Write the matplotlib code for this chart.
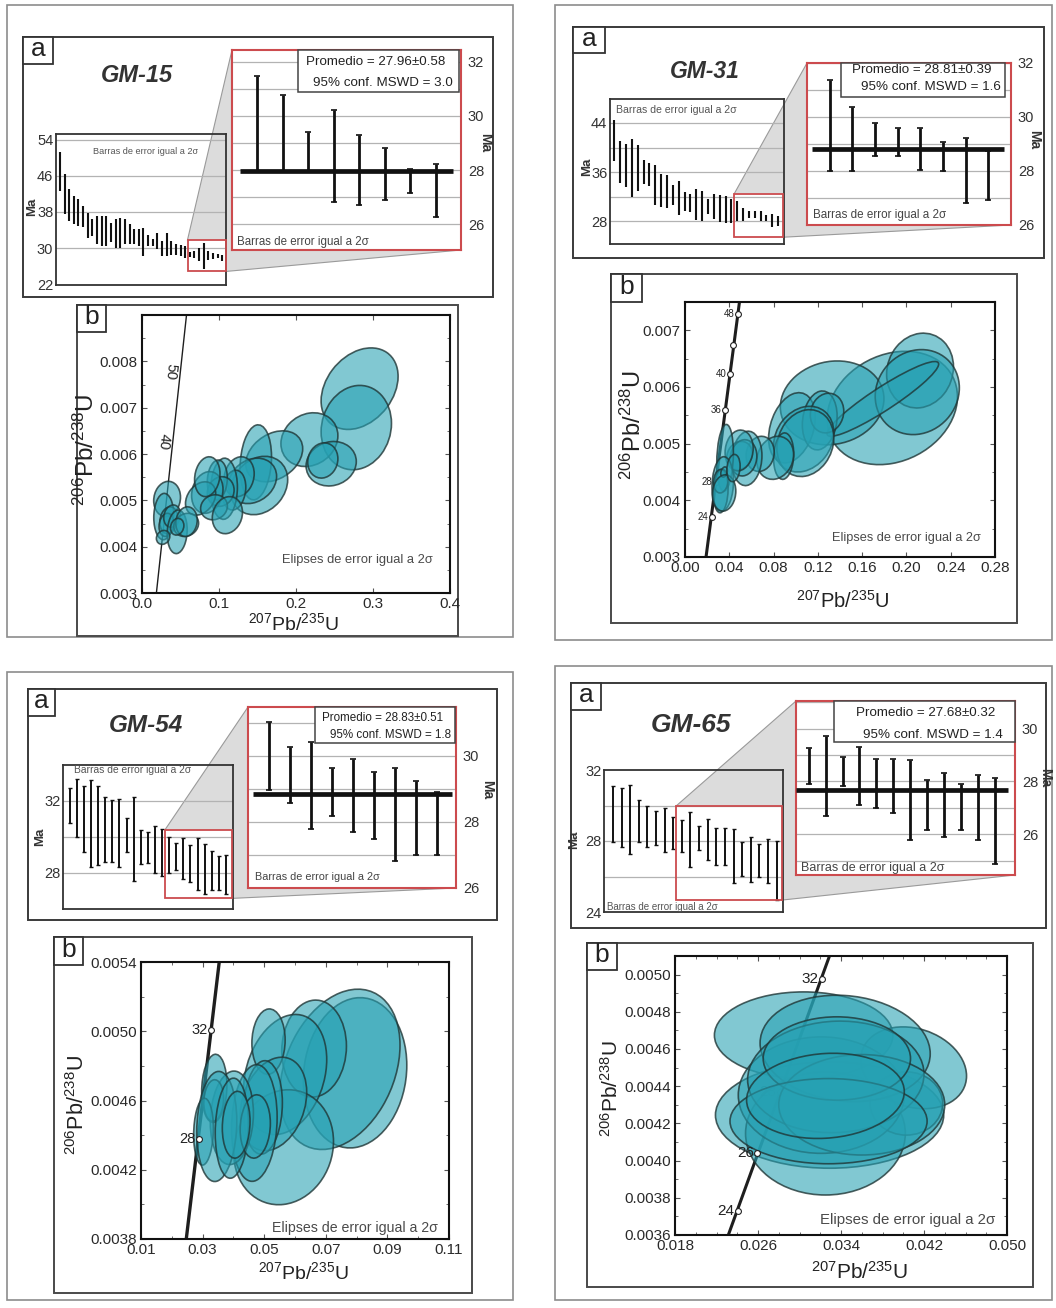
import numpy as np
import matplotlib
matplotlib.use("Agg")
import matplotlib.pyplot as plt
from matplotlib.patches import Rectangle, Ellipse, Polygon
from matplotlib.transforms import Affine2D
from matplotlib.ticker import MultipleLocator

plt.rcParams["font.family"] = ["Liberation Sans", "DejaVu Sans"]
plt.rcParams["mathtext.fontset"] = "custom"
plt.rcParams["mathtext.rm"] = "Liberation Sans"
plt.rcParams["mathtext.default"] = "regular"

# ---------------- data ----------------
# weighted-mean plots (a): small overview bars and zoomed bars (Ma, 2 sigma)
gm15_small_hi = [51.4, 46.5, 43.0, 41.6, 40.8, 39.4, 37.7, 36.5, 37.2, 37.2, 37.1, 35.6,
                 36.5, 36.7, 36.4, 35.3, 34.3, 34.3, 34.5, 32.8, 31.9, 33.4, 31.6, 33.4,
                 31.6, 30.8, 30.6, 30.5, 29.1, 29.4, 30.1, 31.2, 29.4, 28.9, 28.6, 28.4]
gm15_small_lo = [42.6, 37.5, 36.0, 35.3, 34.9, 34.7, 32.3, 32.7, 30.8, 30.5, 30.5, 31.4,
                 29.9, 30.1, 30.8, 31.0, 30.8, 30.5, 28.3, 30.5, 30.5, 29.7, 28.3, 28.3,
                 28.4, 28.4, 28.3, 27.9, 28.1, 27.9, 27.1, 25.3, 27.4, 27.5, 27.7, 27.2]
gm15_zoom_hi = [31.48, 30.79, 29.39, 30.21, 29.30, 28.83, 28.02, 28.21]
gm15_zoom_lo = [27.95, 27.95, 27.95, 26.80, 26.70, 26.89, 27.16, 26.27]

gm31_small_hi = [44.5, 41.0, 40.6, 41.4, 40.4, 38.0, 37.5, 37.2, 35.7, 35.6, 33.9, 34.5,
                 32.7, 32.5, 33.2, 32.9, 31.7, 32.4, 32.2, 32.1, 31.7, 31.3, 30.2, 29.7,
                 29.6, 29.6, 29.1, 29.2, 28.8]
gm31_small_lo = [37.8, 34.2, 33.5, 32.0, 32.9, 34.1, 33.8, 30.7, 30.4, 30.1, 30.7, 29.0,
                 29.6, 29.5, 28.2, 28.1, 29.2, 28.4, 27.9, 27.7, 27.7, 28.0, 28.1, 28.5,
                 28.6, 28.0, 28.0, 27.1, 27.2]
gm31_zoom_hi = [31.37, 30.38, 29.76, 29.58, 29.61, 29.09, 29.21, 28.75]
gm31_zoom_lo = [28.00, 28.00, 28.54, 28.54, 28.05, 28.00, 26.82, 26.93]

gm54_small_hi = [32.73, 33.23, 32.83, 33.14, 32.83, 32.22, 32.04, 32.13, 31.06, 32.22, 30.39,
                 30.26, 30.62, 30.44, 29.98, 29.65, 29.93, 29.56, 29.93, 29.61, 29.23, 28.92, 29.01]
gm54_small_lo = [30.79, 30.02, 29.19, 28.31, 28.42, 28.61, 28.59, 28.31, 29.16, 27.58, 28.51,
                 28.55, 28.00, 27.82, 28.00, 28.15, 27.69, 27.50, 27.08, 26.81, 27.03, 27.03, 26.81]
gm54_zoom_hi = [31.01, 30.25, 30.40, 29.63, 29.91, 29.50, 29.63, 29.22, 28.89]
gm54_zoom_lo = [28.97, 28.57, 27.78, 28.16, 27.68, 27.47, 26.80, 27.00, 27.00]

gm65_small_hi = [31.10, 30.99, 31.18, 30.29, 29.96, 29.71, 29.85, 29.33, 29.18, 29.66,
                 28.86, 29.24, 28.76, 28.76, 28.70, 27.94, 28.23, 27.81, 28.13, 28.00]
gm65_small_lo = [27.94, 27.66, 27.24, 27.94, 27.66, 27.75, 27.37, 27.56, 27.37, 26.53,
                 27.52, 26.95, 26.67, 26.67, 25.66, 26.04, 25.71, 26.00, 25.62, 24.70]
gm65_zoom_hi = [29.26, 29.73, 28.94, 29.31, 28.85, 28.85, 28.81, 28.06, 28.31, 27.91, 28.23, 28.13]
gm65_zoom_lo = [27.89, 26.69, 27.81, 27.10, 26.98, 26.81, 25.79, 26.16, 25.89, 26.16, 25.79, 24.88]

sample_names = ["GM-15", "GM-31", "GM-54", "GM-65"]
mean_age = [27.96, 28.81, 28.83, 27.68]
mean_err = ["0.58", "0.39", "0.51", "0.32"]
mswd = ["3.0", "1.6", "1.8", "1.4"]

# concordia diagrams (b): error ellipses  centre x, centre y, half width, half height, rho
gm15_cx = [0.2826, 0.2783, 0.2174, 0.2457, 0.2348, 0.1717, 0.1478, 0.1522, 0.1435, 0.1261,
           0.1196, 0.1065, 0.0978, 0.1022, 0.0848, 0.0761, 0.0935, 0.1109, 0.0848, 0.0326,
           0.0283, 0.0348, 0.0317, 0.0391, 0.0457, 0.0574, 0.0578, 0.0457, 0.0274]
gm15_cy = [0.00741, 0.00657, 0.00631, 0.00579, 0.00586, 0.00595, 0.00582, 0.00532, 0.00542,
           0.00551, 0.00522, 0.00525, 0.00544, 0.00519, 0.00517, 0.00504, 0.00485, 0.00468,
           0.00551, 0.00503, 0.00465, 0.00457, 0.00447, 0.00466, 0.00432, 0.00447, 0.00454,
           0.00443, 0.00420]
gm15_sx = [0.050, 0.0457, 0.037, 0.0326, 0.0196, 0.037, 0.0204, 0.037, 0.0313, 0.0196,
           0.0152, 0.0174, 0.013, 0.0174, 0.0204, 0.0196, 0.0174, 0.0196, 0.0165, 0.0174,
           0.013, 0.0117, 0.0096, 0.0109, 0.013, 0.0161, 0.0139, 0.0087, 0.0087]
gm15_sy = [0.00088, 0.00091, 0.00058, 0.00048, 0.00038, 0.00055, 0.00081, 0.00063, 0.00049,
           0.00043, 0.00043, 0.00066, 0.00043, 0.00032, 0.00045, 0.00036, 0.00027, 0.00040,
           0.00043, 0.00038, 0.00050, 0.00029, 0.00025, 0.00024, 0.00047, 0.00025, 0.00032,
           0.00018, 0.00015]
gm15_rho = [0.3, 0.1, 0.15, 0.1, 0.1, 0.3, 0.15, 0.2, 0.2, 0.15, 0.15, 0.05, 0.1, 0.1, 0.15,
            0.3, 0.1, 0.15, 0.15, 0.1, 0.05, 0.15, 0.15, 0.15, 0.1, 0.15, 0.1, 0.15, 0.15]

gm31_cx = [0.1872, 0.1329, 0.2123, 0.2098, 0.1787, 0.0966, 0.1217, 0.1283, 0.1072, 0.1087,
           0.0891, 0.0815, 0.0679, 0.0559, 0.0492, 0.0528, 0.0489, 0.0362, 0.0341, 0.0323,
           0.0323, 0.0353, 0.0353, 0.0438]
gm31_cy = [0.00563, 0.00572, 0.00629, 0.00591, 0.00579, 0.00528, 0.00541, 0.00554, 0.00508,
           0.00501, 0.00478, 0.00475, 0.00482, 0.00474, 0.00479, 0.00475, 0.00488, 0.00475,
           0.00429, 0.00416, 0.00434, 0.00450, 0.00413, 0.00457]
gm31_sx = [0.0589, 0.0468, 0.0302, 0.038, 0.0504, 0.0211, 0.0157, 0.0151, 0.0272, 0.0257,
           0.0091, 0.0166, 0.0127, 0.0136, 0.0115, 0.0121, 0.0127, 0.0075, 0.0097, 0.0066,
           0.0066, 0.0030, 0.0106, 0.0060]
gm31_sy = [0.0010, 0.00074, 0.00066, 0.00075, 0.00066, 0.00062, 0.00052, 0.00035, 0.00058,
           0.00059, 0.00041, 0.00038, 0.00031, 0.00048, 0.00025, 0.00032, 0.00036, 0.00059,
           0.00048, 0.00038, 0.00021, 0.00009, 0.00032, 0.00024]
gm31_rho = [0.2, 0.1, 0.1, 0.1, 0.93, 0.3, 0.15, 0.1, 0.2, 0.15, 0.1, 0.15, 0.1, 0.1, 0.15,
            0.1, 0.1, 0.15, 0.1, 0.1, 0.1, 0.3, 0.1, 0.15]

gm54_cx = [0.0795, 0.0746, 0.0662, 0.0568, 0.0514, 0.0563, 0.0530, 0.0496, 0.0468, 0.0395,
           0.0338, 0.0336, 0.0303, 0.0346, 0.0395, 0.0471, 0.0409]
gm54_cy = [0.00476, 0.00478, 0.00490, 0.00475, 0.00494, 0.00433, 0.00458, 0.00456, 0.00447,
           0.00450, 0.00467, 0.00460, 0.00442, 0.00445, 0.00444, 0.00445, 0.00446]
gm54_sx = [0.0168, 0.0195, 0.0105, 0.0135, 0.0054, 0.0162, 0.0108, 0.0063, 0.0074, 0.0070,
           0.0041, 0.0032, 0.0032, 0.0065, 0.0054, 0.0049, 0.0045]
gm54_sy = [0.000434, 0.000463, 0.000280, 0.000347, 0.000189, 0.000332, 0.000270, 0.000270,
           0.000337, 0.000270, 0.000197, 0.000120, 0.000193, 0.000318, 0.000289, 0.000183,
           0.000193]
gm54_rho = [0.1, 0.3, 0.05, 0.25, 0.05, 0.1, 0.25, 0.1, 0.1, 0.1, 0.1, 0.1, 0.1, 0.1, 0.1, 0.1, 0.1]

gm65_cx = [0.0304, 0.0329, 0.0325, 0.0410, 0.0403, 0.0321, 0.0344, 0.0335, 0.0360, 0.0336,
           0.0328, 0.0325]
gm65_cy = [0.004674, 0.004245, 0.004146, 0.004499, 0.004307, 0.004352, 0.004603, 0.004450,
           0.004300, 0.004549, 0.004212, 0.004348]
gm65_sx = [0.0086, 0.0110, 0.0077, 0.0051, 0.0035, 0.0080, 0.0082, 0.0085, 0.0080, 0.0071,
           0.0095, 0.0076]
gm65_sy = [0.000233, 0.000286, 0.000331, 0.000220, 0.000170, 0.000313, 0.000286, 0.000300,
           0.000270, 0.000224, 0.000229, 0.000229]
gm65_rho = [0.0, 0.0, 0.0, -0.2, 0.0, 0.0, -0.1, 0.05, 0.0, 0.0, 0.0, 0.1]

# concordia curve (end points) and age marks as read on each diagram
gm15_conc_x = [0.0187, 0.0578]
gm15_conc_y = [0.0030, 0.0090]
gm15_mark_age = ["50", "40"]
gm15_mark_x = [0.0370, 0.0283]
gm15_mark_y = [0.00779, 0.00627]

gm31_conc_x = [0.0190, 0.0492]
gm31_conc_y = [0.0030, 0.0075]
gm31_mark_age = ["24", "28", "36", "40", "", "48"]
gm31_mark_x = [0.0245, 0.0278, 0.0365, 0.0408, 0.0432, 0.0477]
gm31_mark_y = [0.00370, 0.00432, 0.00560, 0.00623, 0.00674, 0.00729]

gm54_conc_x = [0.0247, 0.0354]
gm54_conc_y = [0.0038, 0.0054]
gm54_mark_age = ["28", "32"]
gm54_mark_x = [0.0287, 0.0327]
gm54_mark_y = [0.00438, 0.005005]

gm65_conc_x = [0.02314, 0.03289]
gm65_conc_y = [0.0036, 0.0051]
gm65_mark_age = ["24", "26", "28", "32"]
gm65_mark_x = [0.02404, 0.02594, 0.02813, 0.03215]
gm65_mark_y = [0.003729, 0.004039, 0.00437, 0.004979]

# ---------------- layout helpers ----------------
W, H = 1056, 1308
fig = plt.figure(figsize=(W / 100, H / 100), dpi=100)
fig.patch.set_facecolor("white")

RED = "#cc4b4e"
TEAL = (0.15, 0.63, 0.70, 0.58)
EDGE = (0.12, 0.21, 0.21, 0.8)
XLAB = r"$^{207}$Pb/$^{235}$U"
YLAB = r"$^{206}$Pb/$^{238}$U"
NOTE_BAR = "Barras de error igual a 2σ"
NOTE_ELL = "Elipses de error igual a 2σ"


def frac(x0, y0, x1, y1):
    return [x0 / W, 1 - y1 / H, (x1 - x0) / W, (y1 - y0) / H]


def pixel_axes(z):
    ax = fig.add_axes([0, 0, 1, 1], zorder=z)
    ax.set_xlim(0, W)
    ax.set_ylim(H, 0)
    ax.axis("off")
    return ax


bg = pixel_axes(-1)
fg = pixel_axes(10)


def frame(ax, x0, y0, x1, y1, ec, lw, fc="none"):
    ax.add_patch(Rectangle((x0, y0), x1 - x0, y1 - y0, fc=fc, ec=ec, lw=lw))


def letter(x0, y0, x1, y1, s):
    frame(fg, x0, y0, x1, y1, "#333333", 1.3, fc="white")
    fg.text((x0 + x1) / 2, (y0 + y1) / 2 - 1, s, ha="center", va="center",
            fontsize=19, color="#222222")


def to_px(ax, x, y):
    d = ax.transData.transform((x, y))
    return d[0], H - d[1]


def panel_a(k, outer, abox, abox_l, title, srect, hi, lo, sxlim, sylim, sticks, sgrid,
            caps, sred, snote, snote_fs, sma, irect, zhi, zlo, ixlim, iylim, iticks,
            span, sbox, s1, s2, inote, inote_fs, ima, title_fs):
    frame(bg, *outer, ec="#8c8c8c", lw=1.2)
    frame(bg, *abox, ec="#3a3a3a", lw=1.4)
    letter(*abox_l, "a")
    fg.text(title[0], title[1], sample_names[k], ha="center", va="center",
            fontsize=title_fs, fontweight="bold", fontstyle="italic", color="#333333")

    # overview plot
    sax = fig.add_axes(frac(*srect))
    sax.patch.set_alpha(0)
    x = np.arange(1, len(hi) + 1)
    mid = (np.array(hi) + np.array(lo)) / 2
    err = (np.array(hi) - np.array(lo)) / 2
    if caps:
        sax.errorbar(x, mid, yerr=err, fmt="none", ecolor="#111111", elinewidth=1.4,
                     capsize=1.6, capthick=1.0, zorder=3)
    else:
        sax.vlines(x, lo, hi, color="#111111", lw=1.5, zorder=3)
    for g in sgrid:
        sax.axhline(g, color="#b3b3b3", lw=0.9, zorder=1)
    sax.set_xlim(*sxlim)
    sax.set_ylim(*sylim)
    sax.set_xticks([])
    sax.set_yticks(sticks)
    sax.tick_params(axis="y", length=0, pad=2, labelsize=10.5, labelcolor="#333333")
    for s in sax.spines.values():
        s.set_color("#333333")
        s.set_linewidth(1.3)
    sax.add_patch(Rectangle((sred[0], sred[1]), sred[2] - sred[0], sred[3] - sred[1],
                            fill=False, ec=RED, lw=1.3, zorder=4, clip_on=False))
    fg.text(snote[0], snote[1], NOTE_BAR, ha="left", va="center", fontsize=snote_fs,
            color="#555555")
    fg.text(sma[0], sma[1], "Ma", rotation=90, ha="center", va="center",
            fontsize=9.5, fontweight="bold", color="#333333")

    # zoom wedge
    tl = to_px(sax, sred[0], sred[3])
    tr = to_px(sax, sred[2], sred[3])
    br = to_px(sax, sred[2], sred[1])
    itl = (irect[0], irect[1])
    ibr = (irect[2], irect[3])
    bg.add_patch(Polygon([tl, itl, ibr, br, tr], closed=True, fc="#dcdcdc", ec="none"))
    bg.plot([tl[0], itl[0]], [tl[1], itl[1]], color="#9a9a9a", lw=0.8)
    bg.plot([br[0], ibr[0]], [br[1], ibr[1]], color="#9a9a9a", lw=0.8)

    # zoomed plot
    iax = fig.add_axes(frac(*irect), zorder=2)
    iax.set_facecolor("white")
    xi = np.arange(1, len(zhi) + 1)
    zmid = (np.array(zhi) + np.array(zlo)) / 2
    zerr = (np.array(zhi) - np.array(zlo)) / 2
    iax.errorbar(xi, zmid, yerr=zerr, fmt="none", ecolor="#111111", elinewidth=2.0,
                 capsize=2.2, capthick=1.2, zorder=3)
    iax.hlines(mean_age[k], span[0], span[1], color="#111111", lw=3.4, zorder=4)
    for g in range(int(np.ceil(iylim[0])), int(np.floor(iylim[1])) + 1):
        iax.axhline(g, color="#b3b3b3", lw=0.9, zorder=1)
    iax.set_xlim(*ixlim)
    iax.set_ylim(*iylim)
    iax.set_xticks([])
    iax.yaxis.tick_right()
    iax.set_yticks(iticks)
    iax.tick_params(axis="y", length=0, pad=5, labelsize=10.5, labelcolor="#333333")
    for s in iax.spines.values():
        s.set_color(RED)
        s.set_linewidth(1.5)
    frame(fg, *sbox, ec="#444444", lw=1.1, fc="white")
    fs = 9.6 if k != 2 else 8.4
    fg.text(s1[0], s1[1], "Promedio = %.2f±%s" % (mean_age[k], mean_err[k]), ha="right",
            va="center", fontsize=fs, color="#222222")
    fg.text(s2[0], s2[1], "95% conf. MSWD = " + mswd[k], ha="right", va="center",
            fontsize=fs, color="#222222")
    fg.text(inote[0], inote[1], NOTE_BAR, ha="left", va="center", fontsize=inote_fs,
            color="#444444")
    fg.text(ima[0], ima[1], "Ma", rotation=-90, ha="center", va="center",
            fontsize=10, fontweight="bold", color="#333333")


def panel_b(bbox, bbox_l, arect, xlim, ylim, xticks, xfmt, yticks, yfmt, cx, cy, sx, sy,
            rho, conc_x, conc_y, conc_lw, mk_age, mk_x, mk_y, mk_fs, mk_front, note,
            note_fs, xlab, ylab, xlab_fs, ylab_fs, xminor=None, yminor=None):
    frame(bg, *bbox, ec="#4a4a4a", lw=1.4)
    letter(*bbox_l, "b")
    ax = fig.add_axes(frac(*arect), zorder=1)
    ax.plot(conc_x, conc_y, color="#1e1e1e", lw=conc_lw, zorder=1, solid_capstyle="butt")
    for i in range(len(cx)):
        r = rho[i]
        m = np.array([[sx[i], 0.0, cx[i]],
                      [sy[i] * r, sy[i] * np.sqrt(1 - r * r), cy[i]],
                      [0.0, 0.0, 1.0]])
        e = Ellipse((0, 0), 2, 2, transform=Affine2D(m) + ax.transData, fc=TEAL, ec=EDGE,
                    lw=1.2, zorder=2)
        ax.add_patch(e)
    if mk_front is not None:
        for a, x, y, front in zip(mk_age, mk_x, mk_y, mk_front):
            z = 3 if front else 1.5
            ax.plot([x], [y], "o", ms=4.2, mfc="white", mec="#222222", mew=0.8, zorder=z)
            ax.annotate(a, (x, y), xytext=(-2.5, 0), textcoords="offset points",
                        ha="right", va="center", fontsize=mk_fs, color="#222222", zorder=z)
    ax.set_xlim(*xlim)
    ax.set_ylim(*ylim)
    ax.set_xticks(xticks)
    ax.set_xticklabels([xfmt % v for v in xticks])
    ax.set_yticks(yticks)
    ax.set_yticklabels([yfmt % v for v in yticks])
    if xminor:
        ax.xaxis.set_minor_locator(MultipleLocator(xminor))
    if yminor:
        ax.yaxis.set_minor_locator(MultipleLocator(yminor))
    ax.tick_params(which="both", direction="in", top=True, right=True, labelsize=11,
                   labelcolor="#2a2a2a", color="#555555")
    ax.tick_params(which="major", length=3.5, width=0.8, pad=3)
    ax.tick_params(which="minor", length=2, width=0.6)
    for s in ax.spines.values():
        s.set_color("#111111")
        s.set_linewidth(1.5)
    fg.text(note[0], note[1], NOTE_ELL, ha="left", va="center", fontsize=note_fs,
            color="#4a4a4a")
    fg.text(xlab[0], xlab[1], XLAB, ha="center", va="center", fontsize=xlab_fs,
            color="#222222")
    fg.text(ylab[0], ylab[1], YLAB, ha="center", va="center", rotation=90,
            fontsize=ylab_fs, color="#222222")
    return ax


# ---------------- GM-15 ----------------
panel_a(0, (7, 5, 513, 637), (23, 37, 493, 297), (23, 37, 53, 64), (137, 75),
        (56, 134, 226, 285), gm15_small_hi, gm15_small_lo, (0.15, 36.8), (21.8, 55.3),
        [22, 30, 38, 46, 54], [30, 38, 46, 54], False, (28.5, 24.8, 36.7, 31.8),
        (93, 152), 6.6, (32, 207),
        (232, 50, 461, 250), gm15_zoom_hi, gm15_zoom_lo, (0, 9), (25.04, 32.44),
        [26, 28, 30, 32], (0.3, 8.7), (298, 50, 459, 92), (445, 62), (453, 83),
        (237, 242), 8.3, (485, 143), 17)
ax15 = panel_b((77, 305, 458, 636), (77, 305, 106, 332), (142, 315, 450, 593),
               (0, 0.4), (0.003, 0.009), [0, 0.1, 0.2, 0.3, 0.4], "%.1f",
               [0.003, 0.004, 0.005, 0.006, 0.007, 0.008], "%.3f",
               gm15_cx, gm15_cy, gm15_sx, gm15_sy, gm15_rho, gm15_conc_x, gm15_conc_y, 1.0,
               gm15_mark_age, gm15_mark_x, gm15_mark_y, 10, None, (282, 560), 9.3,
               (293, 623), (86, 450), 14, 17.5, yminor=0.0005)
for a, x, y in zip(gm15_mark_age, gm15_mark_x, gm15_mark_y):
    ax15.text(x, y, a, rotation=-96, ha="center", va="center", fontsize=10.5,
              color="#222222", zorder=1.5)

# ---------------- GM-31 ----------------
panel_a(1, (555, 5, 1052, 640), (573, 27, 1044, 258), (573, 27, 605, 53), (705, 72),
        (610, 99, 784, 244), gm31_small_hi, gm31_small_lo, (0.25, 30), (24.3, 47.9),
        [28, 36, 44], [28, 32, 36, 40, 44], False, (21.5, 25.4, 29.8, 32.5),
        (616, 110), 7.6, (587, 167),
        (807, 63, 1011, 225), gm31_zoom_hi, gm31_zoom_lo, (0, 9), (26, 32),
        [26, 28, 30, 32], (0.2, 8.7), (841, 63, 1005, 97), (991, 70), (1001, 87),
        (813, 215), 8.4, (1034, 140), 16.5)
panel_b((611, 274, 1017, 623), (611, 274, 642, 302), (685, 302, 995, 557),
        (0, 0.28), (0.003, 0.0075), [0, 0.04, 0.08, 0.12, 0.16, 0.20, 0.24, 0.28], "%.2f",
        [0.003, 0.004, 0.005, 0.006, 0.007], "%.3f",
        gm31_cx, gm31_cy, gm31_sx, gm31_sy, gm31_rho, gm31_conc_x, gm31_conc_y, 2.2,
        gm31_mark_age, gm31_mark_x, gm31_mark_y, 7, [True, False, True, True, True, True],
        (832, 538), 9.2, (843, 601), (633, 425), 14.5, 17, yminor=0.0005)

# ---------------- GM-54 ----------------
panel_a(2, (7, 672, 513, 1300), (28, 689, 497, 920), (28, 689, 55, 716), (146, 725),
        (63, 765, 233, 909), gm54_small_hi, gm54_small_lo, (0.05, 24), (26, 34),
        [28, 32], [28, 30, 32], True, (14.4, 26.59, 23.85, 30.39),
        (74, 770), 7.4, (40, 837),
        (248, 707, 456, 888), gm54_zoom_hi, gm54_zoom_lo, (0, 9.9), (25.99, 31.47),
        [26, 28, 30], (0.24, 9.7), (315, 707, 455, 743), (443, 718), (451, 735),
        (255, 877), 7.8, (487, 790), 17.5)
panel_b((54, 937, 472, 1293), (54, 937, 83, 965), (141, 962, 449, 1239),
        (0.01, 0.11), (0.0038, 0.0054), [0.01, 0.03, 0.05, 0.07, 0.09, 0.11], "%.2f",
        [0.0038, 0.0042, 0.0046, 0.0050, 0.0054], "%.4f",
        gm54_cx, gm54_cy, gm54_sx, gm54_sy, gm54_rho, gm54_conc_x, gm54_conc_y, 2.4,
        gm54_mark_age, gm54_mark_x, gm54_mark_y, 10.5, [True, True], (272, 1228), 10.2,
        (303, 1272), (78, 1105), 14, 15.5, xminor=0.01, yminor=0.0002)

# ---------------- GM-65 ----------------
panel_a(3, (555, 666, 1052, 1300), (571, 683, 1046, 928), (571, 683, 601, 710), (691, 725),
        (604, 770, 783, 912), gm65_small_hi, gm65_small_lo, (-0.05, 20.75), (24, 32),
        [24, 28, 32], [26, 28, 30], True, (8.3, 24.67, 20.6, 29.96),
        (607, 907), 7.0, (574, 840),
        (796, 701, 1015, 875), gm65_zoom_hi, gm65_zoom_lo, (0.25, 13.2), (24.45, 31.05),
        [26, 28, 30], (0.25, 12.8), (834, 701, 1015, 742), (995, 713), (1003, 735),
        (801, 868), 9.0, (1045, 778), 19)
panel_b((587, 943, 1033, 1287), (587, 943, 617, 970), (675, 956, 1007, 1235),
        (0.018, 0.05), (0.0036, 0.0051), [0.018, 0.026, 0.034, 0.042, 0.050], "%.3f",
        [0.0036, 0.0038, 0.0040, 0.0042, 0.0044, 0.0046, 0.0048, 0.0050], "%.4f",
        gm65_cx, gm65_cy, gm65_sx, gm65_sy, gm65_rho, gm65_conc_x, gm65_conc_y, 2.2,
        gm65_mark_age, gm65_mark_x, gm65_mark_y, 11, [True, True, False, True],
        (820, 1220), 10.8, (860, 1272), (611, 1088), 15, 15, xminor=0.002, yminor=0.0001)

fig.savefig("out.png", dpi=100)
